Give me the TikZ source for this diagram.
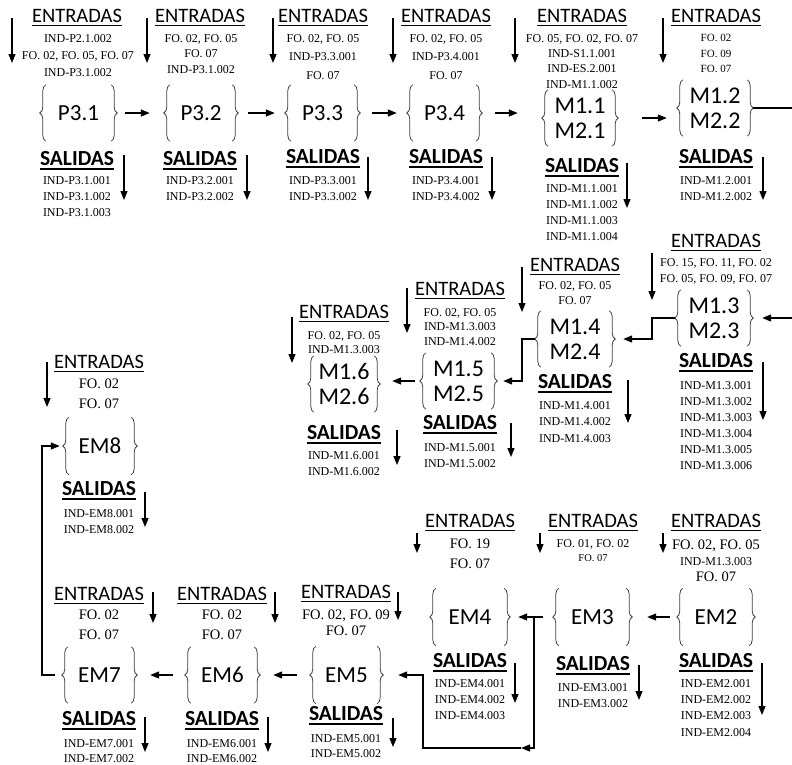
\documentclass[tikz,border=0pt]{standalone}
\usepackage{fontspec}
\setmainfont{Liberation Serif}
\newfontfamily\calibri{Carlito}
\usetikzlibrary{arrows.meta,decorations.pathreplacing}
\newcommand{\rayado}[2]{\vtop{\hbox{#2}\kern2.5pt\hrule height #1}}

\begin{document}
\begin{tikzpicture}[x=1pt,y=-1pt,
  ent/.style={font=\calibri\fontsize{20.5}{22}\selectfont,inner sep=0pt,anchor=base},
  sal/.style={font=\calibri\bfseries\fontsize{21.5}{24}\selectfont,inner sep=0pt,anchor=base},
  lista/.style={font=\fontsize{12}{#1}\selectfont,align=center,inner sep=0pt,anchor=north},
  lista/.default=16,
  listag/.style={font=\fontsize{14.5}{#1}\selectfont,align=center,inner sep=0pt,anchor=north},
  listag/.default=20,
  modulo/.style={minimum width=76pt,minimum height=56pt,inner sep=0pt,align=center,
    font=\calibri\fontsize{23}{25}\selectfont},
  moduloM/.style={modulo,font=\calibri\fontsize{24}{25}\selectfont},
  llave/.style={decorate,decoration={brace,amplitude=6pt},draw=black!75,line width=0.8pt},
  flecha/.style={-{Triangle[length=9pt,width=7pt]},line width=1.2pt},
  conector/.style={flecha,shorten <=8pt,shorten >=14pt}]
  \useasboundingbox (0,0) rectangle (792,764);

  % ---- P3.1
  \node[ent] (e31) at (77,22) {\rayado{1.8pt}{ENTRADAS}};
  \node[lista=17] (i31) at (78,34) {IND-P2.1.002\\FO. 02, FO. 05, FO. 07\\IND-P3.1.002};
  \node[modulo,minimum width=77pt] (p31) at (78.5,113) {P3.1};
  \node[sal] (s31) at (77,165) {\rayado{2.6pt}{SALIDAS}};
  \node[lista] (o31) at (77,176) {IND-P3.1.001\\IND-P3.1.002\\IND-P3.1.003};
  \draw[flecha] (12,18) -- (12,63);
  \draw[flecha] (124,155) -- (124,200);

  % ---- P3.2
  \node[ent] (e32) at (200,22) {\rayado{1.8pt}{ENTRADAS}};
  \node[lista=15.5] (i32) at (201,34) {FO. 02, FO. 05\\FO. 07\\IND-P3.1.002};
  \node[modulo,minimum width=74pt] (p32) at (201,113) {P3.2};
  \node[sal] (s32) at (200,165) {\rayado{2.6pt}{SALIDAS}};
  \node[lista] (o32) at (200,176) {IND-P3.2.001\\IND-P3.2.002};
  \draw[flecha] (147,18) -- (147,63);
  \draw[flecha] (247,155) -- (247,200);

  % ---- P3.3
  \node[ent] (e33) at (323,22) {\rayado{1.8pt}{ENTRADAS}};
  \node[lista=18.5] (i33) at (323,34) {FO. 02, FO. 05\\IND-P3.3.001\\FO. 07};
  \node[modulo,minimum width=75pt] (p33) at (322.5,113) {P3.3};
  \node[sal] (s33) at (323,163) {\rayado{2.6pt}{SALIDAS}};
  \node[lista] (o33) at (323,176) {IND-P3.3.001\\IND-P3.3.002};
  \draw[flecha] (273,18) -- (273,63);
  \draw[flecha] (368,157) -- (368,200);

  % ---- P3.4
  \node[ent] (e34) at (446,22) {\rayado{1.8pt}{ENTRADAS}};
  \node[lista=18.5] (i34) at (446,34) {FO. 02, FO. 05\\IND-P3.4.001\\FO. 07};
  \node[modulo,minimum width=75pt] (p34) at (444.5,113) {P3.4};
  \node[sal] (s34) at (446,163) {\rayado{2.6pt}{SALIDAS}};
  \node[lista] (o34) at (446,176) {IND-P3.4.001\\IND-P3.4.002};
  \draw[flecha] (393,18) -- (393,63);
  \draw[flecha] (492,157) -- (492,200);

  % ---- M1.1 / M2.1
  \node[ent] (e11) at (582,22) {\rayado{1.8pt}{ENTRADAS}};
  \node[lista=15.3] (i11) at (582,34) {FO. 05, FO. 02, FO. 07\\IND-S1.1.001\\IND-ES.2.001\\IND-M1.1.002};
  \node[moduloM] (m11) at (580,118) {M1.1\\M2.1};
  \node[sal] (s11) at (582,172) {\rayado{2.6pt}{SALIDAS}};
  \node[lista] (o11) at (582,184) {IND-M1.1.001\\IND-M1.1.002\\IND-M1.1.003\\IND-M1.1.004};
  \draw[flecha] (515,18) -- (515,63);
  \draw[flecha] (627,163) -- (627,208);

  % ---- M1.2 / M2.2
  \node[ent] (e12) at (716,22) {\rayado{1.8pt}{ENTRADAS}};
  \node[lista=15.5,font=\fontsize{11}{15.5}\selectfont] (i12) at (716,34) {FO. 02\\FO. 09\\FO. 07};
  \node[moduloM] (m12) at (715,108) {M1.2\\M2.2};
  \node[sal] (s12) at (716,163) {\rayado{2.6pt}{SALIDAS}};
  \node[lista] (o12) at (716,176) {IND-M1.2.001\\IND-M1.2.002};
  \draw[flecha] (663,18) -- (663,63);
  \draw[flecha] (763,157) -- (763,200);

  % ---- M1.3 / M2.3
  \node[ent] (e13) at (716,247) {\rayado{1.8pt}{ENTRADAS}};
  \node[lista] (i13) at (716,258) {FO. 15, FO. 11, FO. 02\\FO. 05, FO. 09, FO. 07};
  \node[moduloM,minimum width=78pt] (m13) at (714,318) {M1.3\\M2.3};
  \node[sal] (s13) at (716,367) {\rayado{2.6pt}{SALIDAS}};
  \node[lista] (o13) at (716,381) {IND-M1.3.001\\IND-M1.3.002\\IND-M1.3.003\\IND-M1.3.004\\IND-M1.3.005\\IND-M1.3.006};
  \draw[flecha] (652,253) -- (652,300);
  \draw[flecha] (763,362) -- (763,420);

  % ---- M1.4 / M2.4
  \node[ent] (e14) at (575,271) {\rayado{1.8pt}{ENTRADAS}};
  \node[lista=15] (i14) at (575,281) {FO. 02, FO. 05\\FO. 07};
  \node[moduloM,minimum width=80pt] (m14) at (575,339) {M1.4\\M2.4};
  \node[sal] (s14) at (575,388) {\rayado{2.6pt}{SALIDAS}};
  \node[lista=16.5] (o14) at (575,401) {IND-M1.4.001\\IND-M1.4.002\\IND-M1.4.003};
  \draw[flecha] (522,267) -- (522,312);
  \draw[flecha] (628,380) -- (628,423);

  % ---- M1.5 / M2.5
  \node[ent] (e15) at (460,295) {\rayado{1.8pt}{ENTRADAS}};
  \node[lista=14.5] (i15) at (460,308) {FO. 02, FO. 05\\IND-M1.3.003\\IND-M1.4.002};
  \node[moduloM,minimum width=77pt] (m15) at (458.5,381) {M1.5\\M2.5};
  \node[sal] (s15) at (460,429) {\rayado{2.6pt}{SALIDAS}};
  \node[lista] (o15) at (460,443) {IND-M1.5.001\\IND-M1.5.002};
  \draw[flecha] (407,288) -- (407,333);
  \draw[flecha] (511,423) -- (511,457);

  % ---- M1.6 / M2.6
  \node[ent] (e16) at (344,318) {\rayado{1.8pt}{ENTRADAS}};
  \node[lista=14] (i16) at (344,331) {FO. 02, FO. 05\\IND-M1.3.003};
  \node[moduloM,minimum width=72pt] (m16) at (344,384) {M1.6\\M2.6};
  \node[sal] (s16) at (344,439) {\rayado{2.6pt}{SALIDAS}};
  \node[lista] (o16) at (344,451) {IND-M1.6.001\\IND-M1.6.002};
  \draw[flecha] (292,317) -- (292,363);
  \draw[flecha] (397,430) -- (397,465);

  % ---- EM8
  \node[ent] (e8) at (99,368) {\rayado{1.8pt}{ENTRADAS}};
  \node[listag] (i8) at (99,379) {FO. 02\\FO. 07};
  \node[modulo,minimum width=74pt,minimum height=57pt] (em8) at (100,446) {EM8};
  \node[sal] (s8) at (99,495) {\rayado{2.6pt}{SALIDAS}};
  \node[lista] (o8) at (99,509) {IND-EM8.001\\IND-EM8.002};
  \draw[flecha] (47,362) -- (47,407);
  \draw[flecha] (145,492) -- (145,527);

  % ---- EM2
  \node[ent] (e2) at (716,527) {\rayado{1.8pt}{ENTRADAS}};
  \node[listag=16] (i2) at (716,540) {FO. 02, FO. 05\\{\fontsize{12}{14}\selectfont IND-M1.3.003}\\FO. 07};
  \node[modulo,minimum width=78pt,minimum height=57pt] (em2) at (716,617) {EM2};
  \node[sal] (s2) at (716,667) {\rayado{2.6pt}{SALIDAS}};
  \node[lista=16.3] (o2) at (716,679) {IND-EM2.001\\IND-EM2.002\\IND-EM2.003\\IND-EM2.004};
  \draw[flecha] (663,533) -- (663,553);
  \draw[flecha] (762,663) -- (762,715);

  % ---- EM3
  \node[ent] (e3) at (593,527) {\rayado{1.8pt}{ENTRADAS}};
  \node[lista=14] (i3) at (593,539) {FO. 01, FO. 02\\{\fontsize{10.5}{14}\selectfont FO. 07}};
  \node[modulo,minimum width=79pt,minimum height=57pt] (em3) at (592.5,617) {EM3};
  \node[sal] (s3) at (593,670) {\rayado{2.6pt}{SALIDAS}};
  \node[lista] (o3) at (593,683) {IND-EM3.001\\IND-EM3.002};
  \draw[flecha] (540,533) -- (540,553);
  \draw[flecha] (639,665) -- (639,700);

  % ---- EM4
  \node[ent] (e4) at (470,527) {\rayado{1.8pt}{ENTRADAS}};
  \node[listag] (i4) at (470,539) {FO. 19\\FO. 07};
  \node[modulo,minimum width=80pt,minimum height=57pt] (em4) at (470,617) {EM4};
  \node[sal] (s4) at (470,667) {\rayado{2.6pt}{SALIDAS}};
  \node[lista] (o4) at (470,679) {IND-EM4.001\\IND-EM4.002\\IND-EM4.003};
  \draw[flecha] (417,533) -- (417,553);
  \draw[flecha] (515,663) -- (515,703);

  % ---- EM5
  \node[ent] (e5) at (346,598) {\rayado{1.8pt}{ENTRADAS}};
  \node[listag=16] (i5) at (346,610) {FO. 02, FO. 09\\FO. 07};
  \node[modulo,minimum width=73pt,minimum height=57pt] (em5) at (346.5,675) {EM5};
  \node[sal] (s5) at (346,720) {\rayado{2.6pt}{SALIDAS}};
  \node[lista=15] (o5) at (346,734) {IND-EM5.001\\IND-EM5.002};
  \draw[flecha] (398,592) -- (398,620);
  \draw[flecha] (393,718) -- (393,747);

  % ---- EM6
  \node[ent] (e6) at (222,600) {\rayado{1.8pt}{ENTRADAS}};
  \node[listag] (i6) at (222,610) {FO. 02\\FO. 07};
  \node[modulo,minimum width=75pt] (em6) at (222.5,675) {EM6};
  \node[sal] (s6) at (222,725) {\rayado{2.6pt}{SALIDAS}};
  \node[lista=15] (o6) at (222,739) {IND-EM6.001\\IND-EM6.002};
  \draw[flecha] (275,592) -- (275,623);
  \draw[flecha] (268,717) -- (268,752);

  % ---- EM7
  \node[ent] (e7) at (99,600) {\rayado{1.8pt}{ENTRADAS}};
  \node[listag] (i7) at (99,610) {FO. 02\\FO. 07};
  \node[modulo,minimum width=75pt] (em7) at (99.5,675) {EM7};
  \node[sal] (s7) at (99,725) {\rayado{2.6pt}{SALIDAS}};
  \node[lista=15] (o7) at (99,739) {IND-EM7.001\\IND-EM7.002};
  \draw[flecha] (153,592) -- (153,623);
  \draw[flecha] (145,717) -- (145,752);

  % braces round every module
  \foreach \m in {p31,p32,p33,p34,m11,m12,m13,m14,m15,m16,em8,em2,em3,em4,em5,em6,em7}{
    \draw[llave] ([xshift=6pt]\m.south west) -- ([xshift=6pt]\m.north west);
    \draw[llave] ([xshift=-6pt]\m.north east) -- ([xshift=-6pt]\m.south east);
  }

  % connectors
  \coordinate (salida) at (792,108);
  \coordinate (entrada) at (792,318);
  \coordinate (q1) at (652,318);
  \coordinate (q2) at (522,339);
  \coordinate (j) at (534,617);
  \coordinate (c1) at (521,748);
  \coordinate (q3) at (423,748);
  \coordinate (q4) at (42,675);

  \draw[conector] (p31) -- (p32);
  \draw[conector,shorten <=10pt,shorten >=10pt] (p32) -- (p33);
  \draw[conector,shorten <=12pt,shorten >=10pt] (p33) -- (p34);
  \draw[conector,shorten <=13pt,shorten >=24pt] (p34.east) -- (p34.east -| m11.west);
  \draw[conector,shorten <=24pt,shorten >=10pt] (m11.east) -- (m11.east -| m12.west);
  \draw[line width=1.2pt] (m12.east) -- (salida);
  \draw[flecha,shorten >=9pt] (entrada) -- (m13.east);
  \draw[flecha,shorten >=8pt] (m13.west) -- (q1) |- (m14.east);
  \draw[flecha,shorten >=6pt] (m14.west) -- (q2) |- (m15.east);
  \draw[conector,shorten <=5pt,shorten >=12pt] (m15.west) -- (m15.west -| m16.east);
  \draw[conector,shorten <=7pt,shorten >=15pt] (em2) -- (em3);
  \draw[conector,shorten <=10pt,shorten >=8pt] (em3) -- (em4);
  \draw[flecha] (j) |- (c1);
  \draw[flecha,shorten >=15pt] (c1) -- (q3) |- (em5.east);
  \draw[conector,shorten <=13pt,shorten >=13pt] (em5) -- (em6);
  \draw[conector,shorten <=12pt,shorten >=13pt] (em6) -- (em7);
  \draw[flecha,shorten <=7pt,shorten >=3pt] (em7.west) -- (q4) |- (em8.west);
\end{tikzpicture}
\end{document}
